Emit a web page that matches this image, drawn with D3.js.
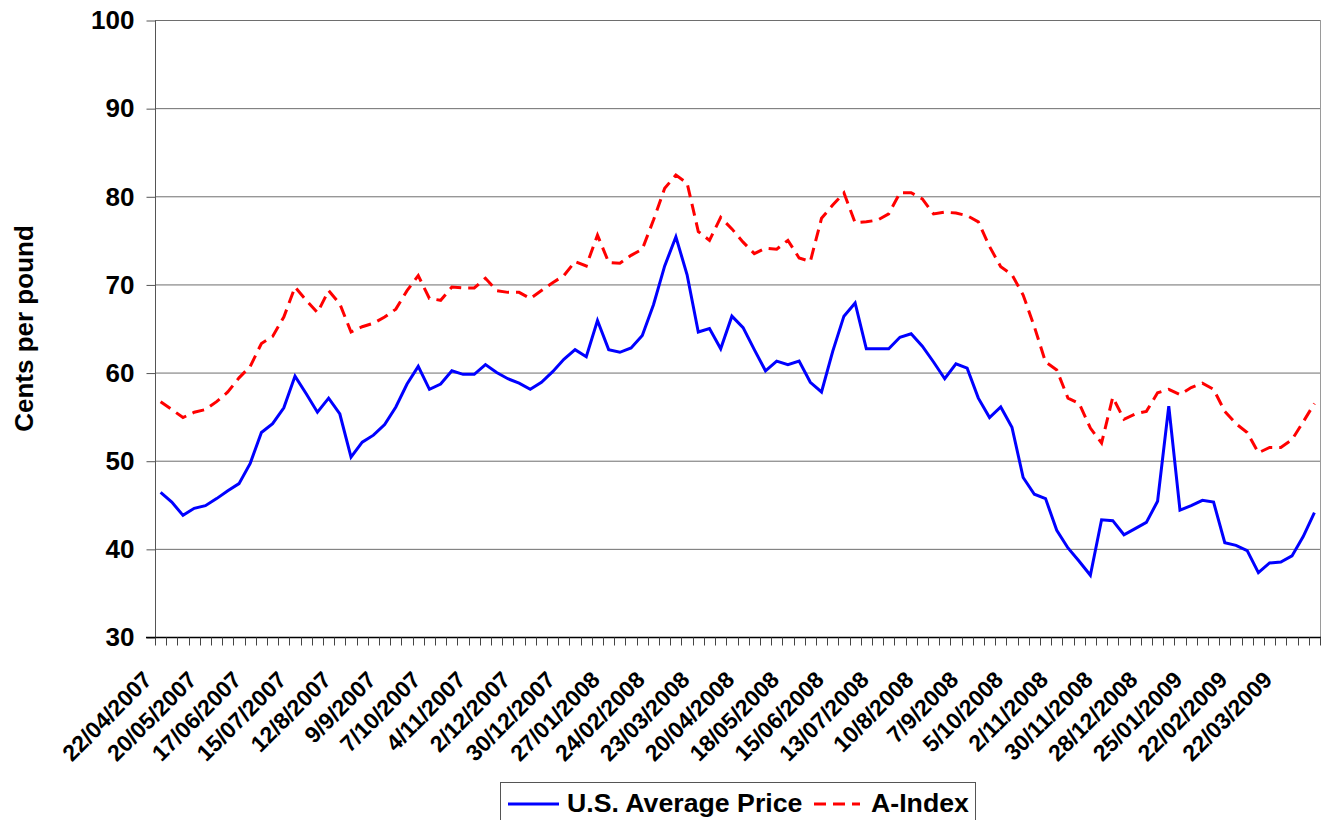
<!DOCTYPE html>
<html>
<head>
<meta charset="utf-8">
<script src="https://cdn.jsdelivr.net/npm/d3@7"></script>
<style>
body { margin: 0; background: #fff; }
svg { display: block; font-family: "Liberation Sans", Arial, sans-serif; font-weight: bold; }
.grid line { stroke: #6e6e6e; stroke-width: 1; }
</style>
</head>
<body>
<svg width="1322" height="820"></svg>
<script>
// weekly prices, cents per pound, 22/04/2007 .. 12/04/2009 (104 weeks)
const us_price = [
	46.4, 45.3, 43.8, 44.6, 44.9, 45.7, 46.6, 47.4, 49.7, 53.2, 54.2, 56.0, 59.6, 57.6, 55.5, 57.1,
	55.3, 50.4, 52.1, 52.9, 54.1, 56.1, 58.7, 60.7, 58.1, 58.7, 60.2, 59.8, 59.8, 60.9, 60.0, 59.3,
	58.8, 58.1, 58.9, 60.1, 61.5, 62.6, 61.8, 65.9, 62.6, 62.3, 62.8, 64.2, 67.7, 72.1, 75.4, 71.1,
	64.6, 65.0, 62.7, 66.4, 65.1, 62.6, 60.2, 61.3, 60.9, 61.3, 58.9, 57.8, 62.4, 66.4, 67.9, 62.7,
	62.7, 62.7, 64.0, 64.4, 63.0, 61.2, 59.3, 61.0, 60.5, 57.1, 54.9, 56.1, 53.8, 48.1, 46.2, 45.7,
	42.1, 40.1, 38.6, 37.0, 43.3, 43.2, 41.6, 42.3, 43.0, 45.4, 56.2, 44.4, 44.9, 45.5, 45.3, 40.7,
	40.4, 39.8, 37.3, 38.4, 38.5, 39.2, 41.4, 44.1
];
const a_index = [
	56.7, 55.8, 54.9, 55.5, 55.8, 56.7, 57.8, 59.4, 60.7, 63.3, 64.1, 66.3, 69.7, 68.2, 66.8, 69.3,
	67.8, 64.6, 65.2, 65.6, 66.3, 67.2, 69.3, 71.0, 68.4, 68.2, 69.7, 69.6, 69.6, 70.7, 69.3, 69.1,
	69.1, 68.4, 69.3, 70.2, 71.0, 72.6, 72.1, 75.6, 72.5, 72.4, 73.3, 74.0, 77.3, 80.9, 82.4, 81.5,
	76.0, 75.0, 77.6, 76.3, 74.8, 73.5, 74.1, 74.0, 75.0, 73.0, 72.6, 77.5, 79.0, 80.4, 77.0, 77.1,
	77.3, 78.0, 80.4, 80.4, 79.7, 78.0, 78.2, 78.1, 77.8, 77.1, 74.3, 72.0, 71.1, 68.8, 65.2, 61.2,
	60.3, 57.1, 56.5, 53.7, 52.0, 57.2, 54.7, 55.3, 55.6, 57.7, 58.1, 57.5, 58.3, 58.8, 58.1, 55.6,
	54.2, 53.2, 50.9, 51.5, 51.5, 52.4, 54.4, 56.5
];
// every 4th week gets a label
const week_labels = [
	"22/04/2007", "20/05/2007", "17/06/2007", "15/07/2007", "12/8/2007", "9/9/2007", "7/10/2007",
	"4/11/2007", "2/12/2007", "30/12/2007", "27/01/2008", "24/02/2008", "23/03/2008", "20/04/2008",
	"18/05/2008", "15/06/2008", "13/07/2008", "10/8/2008", "7/9/2008", "5/10/2008", "2/11/2008",
	"30/11/2008", "28/12/2008", "25/01/2009", "22/02/2009", "22/03/2009"
];
const label_step = 4;
const y_ticks = [30, 40, 50, 60, 70, 80, 90, 100];

var svg = d3.select("svg");

const p_left = 155, p_right = 1320, p_top = 20, p_bottom = 637;

var x = d3.scaleBand().domain(d3.range(us_price.length)).range([p_left, p_right]).padding(0);
var y = d3.scaleLinear().domain([30, 100]).range([p_bottom, p_top]);

// gridlines
svg.append("g").attr("class", "grid")
	.selectAll("line").data(y_ticks.slice(1)).enter()
	.append("line")
	.attr("x1", p_left).attr("x2", p_right)
	.attr("y1", d => y(d) + 0.5).attr("y2", d => y(d) + 0.5);

// plot border, right side
svg.append("line")
	.attr("x1", p_right + 0.5).attr("x2", p_right + 0.5)
	.attr("y1", p_top).attr("y2", p_bottom)
	.attr("stroke", "#9a9a9a");

// y axis
var yAxis = d3.axisLeft(y).tickValues(y_ticks).tickSize(9).tickPadding(12);
var gy = svg.append("g").attr("transform", "translate(" + (p_left + 0.5) + ",0.5)").call(yAxis);
gy.select(".domain").attr("stroke", "#555").attr("d", "M0," + p_top + "V" + p_bottom);
gy.selectAll(".tick line").attr("stroke", "#555");
gy.selectAll("text").attr("font-size", "26px").attr("fill", "#000").attr("font-family", null);

// x axis: ticks between categories
var gx = svg.append("g").attr("transform", "translate(0," + (p_bottom + 0.5) + ")");
gx.append("line").attr("x1", p_left - 9).attr("x2", p_right + 1).attr("stroke", "#000").attr("stroke-width", 1.5);
gx.selectAll(".xt").data(d3.range(us_price.length + 1)).enter()
	.append("line")
	.attr("class", "xt")
	.attr("x1", d => Math.round(p_left + d * x.bandwidth()) + 0.5)
	.attr("x2", d => Math.round(p_left + d * x.bandwidth()) + 0.5)
	.attr("y1", 0).attr("y2", 8)
	.attr("stroke", "#444");

gx.selectAll("text").data(week_labels).enter()
	.append("text")
	.attr("transform", (d, i) => "translate(" + (x(i * label_step) + x.bandwidth() / 2 - 13) + ",38) rotate(-45)")
	.attr("text-anchor", "end")
	.attr("dy", "0.35em")
	.attr("font-size", "23px")
	.text(d => d);

// y title
svg.append("text")
	.attr("transform", "translate(33," + ((p_top + p_bottom) / 2) + ") rotate(-90)")
	.attr("text-anchor", "middle")
	.attr("font-size", "26px")
	.text("Cents per pound");

// lines
var line = d3.line()
	.x((d, i) => x(i) + x.bandwidth() / 2)
	.y(d => y(d));

svg.append("path").datum(a_index)
	.attr("fill", "none")
	.attr("stroke", "#ff0000")
	.attr("stroke-width", 3)
	.attr("stroke-dasharray", "12,7")
	.attr("d", line);

svg.append("path").datum(us_price)
	.attr("fill", "none")
	.attr("stroke", "#0000ff")
	.attr("stroke-width", 3)
	.attr("d", line);

// legend
var lg = svg.append("g");
lg.append("rect")
	.attr("x", 500.5).attr("y", 782.5).attr("width", 475).attr("height", 50)
	.attr("fill", "#fff").attr("stroke", "#555");
lg.append("line").attr("x1", 508).attr("x2", 559).attr("y1", 804).attr("y2", 804)
	.attr("stroke", "#0000ff").attr("stroke-width", 3);
lg.append("text").attr("x", 567).attr("y", 812).attr("font-size", "26.7px").text("U.S. Average Price");
lg.append("line").attr("x1", 814).attr("x2", 860).attr("y1", 804).attr("y2", 804)
	.attr("stroke", "#ff0000").attr("stroke-width", 3).attr("stroke-dasharray", "12,7");
lg.append("text").attr("x", 871).attr("y", 812).attr("font-size", "26.7px").text("A-Index");
</script>
</body>
</html>
